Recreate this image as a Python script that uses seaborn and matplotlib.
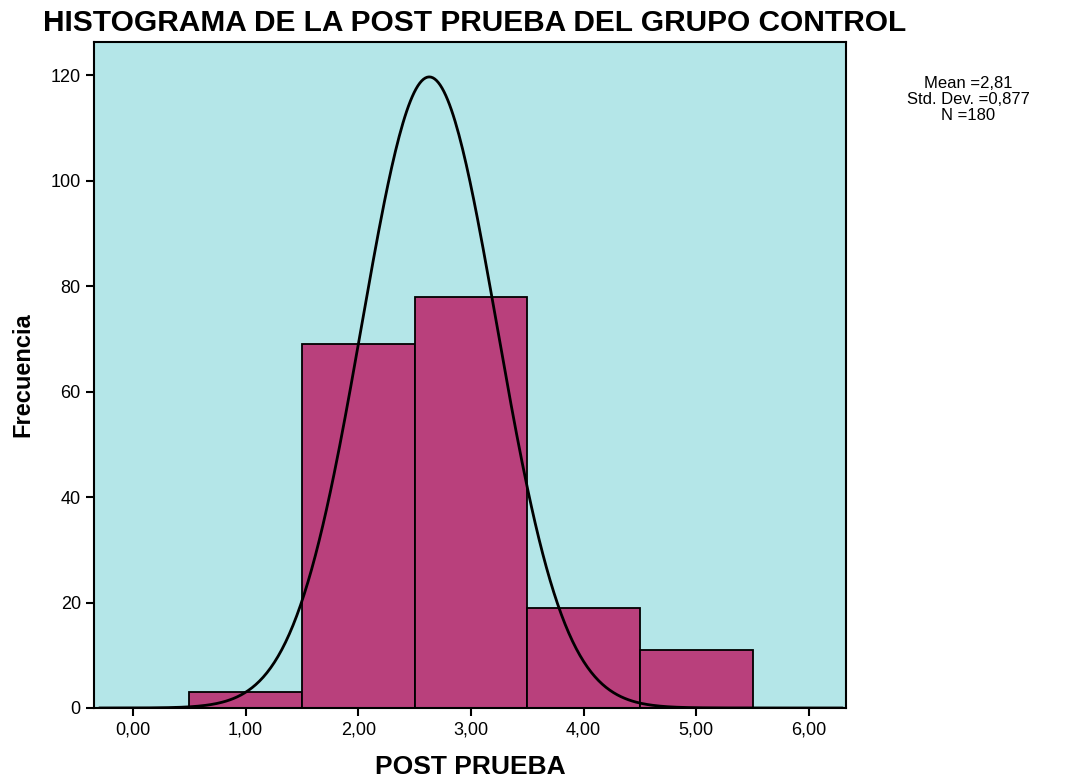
import numpy as np
import pandas as pd
import matplotlib
matplotlib.use("Agg")
import matplotlib.pyplot as plt
import seaborn as sns

# Data
bin_centers = [1, 2, 3, 4, 5]
bin_counts = [3, 69, 78, 19, 11]
bin_edges = [0.5, 1.5, 2.5, 3.5, 4.5, 5.5]

# Normal curve as drawn (peak ~119.5 near x=2.63)
curve_mean = 2.63
curve_sd = 0.60
n_total = 180

x_ticks = [0, 1, 2, 3, 4, 5, 6]
x_tick_labels = ["0,00", "1,00", "2,00", "3,00", "4,00", "5,00", "6,00"]
y_ticks = [0, 20, 40, 60, 80, 100, 120]

stats_text = "Mean =2,81\nStd. Dev. =0,877\nN =180"

BG = "#b4e6e8"
BAR = "#b9407c"

sns.set_theme(style="white")
plt.rcParams['font.family'] = ['Liberation Sans', 'DejaVu Sans']
plt.rcParams['text.color'] = 'black'
plt.rcParams['axes.labelcolor'] = 'black'

fig = plt.figure(figsize=(10.7, 7.78), dpi=100)
ax = fig.add_axes([0.0879, 0.09, 0.7028, 0.856])
ax.set_facecolor(BG)

df = pd.DataFrame({"valor": bin_centers, "n": bin_counts})
sns.histplot(data=df, x="valor", weights="n", bins=bin_edges, ax=ax,
             color=BAR, alpha=1, edgecolor="black", linewidth=1.3)

xs = np.linspace(-0.3, 6.3, 400)
ys = n_total * 1.0 / (curve_sd * np.sqrt(2 * np.pi)) * np.exp(-0.5 * ((xs - curve_mean) / curve_sd) ** 2)
sns.lineplot(x=xs, y=ys, ax=ax, color="black", linewidth=2)

ax.set_xlim(-0.346, 6.33)
ax.set_ylim(0, 126.3)
ax.set_xticks(x_ticks)
ax.set_xticklabels(x_tick_labels)
ax.set_yticks(y_ticks)
ax.tick_params(axis="both", which="major", direction="out", length=6, width=1.5,
               color="black", labelsize=13, labelcolor="black", bottom=True, left=True)

for s in ax.spines.values():
    s.set_color("black")
    s.set_linewidth(1.5)

ax.set_xlabel("POST PRUEBA", fontsize=19, fontweight="bold", labelpad=12)
ax.set_ylabel("Frecuencia", fontsize=17, fontweight="bold", labelpad=12)

fig.text(0.444, 0.970, "HISTOGRAMA DE LA POST PRUEBA DEL GRUPO CONTROL",
         ha="center", va="center", fontsize=21.5, fontweight="bold")
fig.text(0.905, 0.872, stats_text, ha="center", va="center",
         fontsize=12, linespacing=1.1)

fig.savefig("out.png", dpi=100)
